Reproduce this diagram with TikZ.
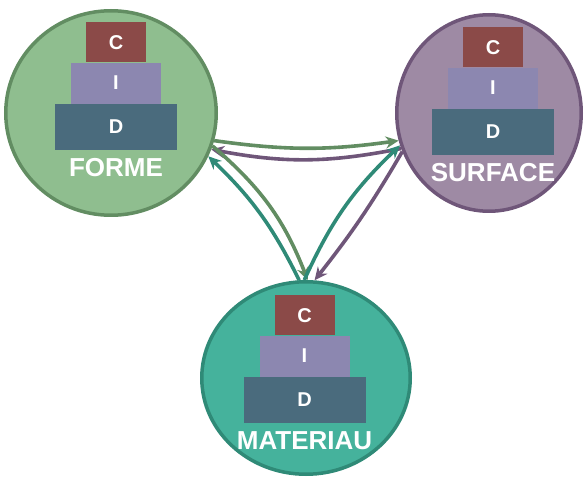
\documentclass[tikz,border=0pt]{standalone}
\usepackage{fontspec}
\setmainfont{Liberation Sans}
\usepackage{xcolor}
\usepackage{tikz}
\usetikzlibrary{arrows.meta,positioning,shapes.geometric}
\definecolor{formefill}{HTML}{8FBE8F}
\definecolor{formeline}{HTML}{628D62}
\definecolor{surffill}{HTML}{9E8AA4}
\definecolor{surfline}{HTML}{6F5679}
\definecolor{matfill}{HTML}{45B29C}
\definecolor{matline}{HTML}{2F8A77}
\definecolor{tierc}{HTML}{8B4A48}
\definecolor{tieri}{HTML}{8C87B0}
\definecolor{tierd}{HTML}{4A6B7D}

\begin{document}
\begin{tikzpicture}[
            x=1pt, y=1pt,
            bubble/.style={ellipse, inner sep=0pt, line width=3.5pt},
            tier/.style={inner sep=0pt, text=white, font=\bfseries\fontsize{20}{20}\selectfont},
            tagl/.style={inner sep=0pt, text=white, font=\bfseries\fontsize{26}{26}\selectfont},
            conn/.style={-{Stealth[length=13pt, width=12pt]}, line width=3.6pt}
        ]
        \useasboundingbox (0,0) rectangle (587,-489);

        % trois bulles
        \node[bubble, fill=formefill, draw=formeline,
            minimum width=210.5pt, minimum height=204.5pt] (forme) at (111,-113) {};
        \node[bubble, fill=surffill, draw=surfline,
            minimum width=184.5pt, minimum height=196.5pt] (surface) at (489,-113) {};
        \node[bubble, fill=matfill, draw=matline,
            minimum width=208.5pt, minimum height=192.5pt] (materiau) at (306,-378) {};

        % piles C / I / D
        \foreach \nm/\px/\py/\lab in {forme/116/-22/FORME, surface/493/-27/SURFACE,
                materiau/304.5/-295/MATERIAU} {
            \node[tier, fill=tierc, minimum width=60pt, minimum height=40pt, anchor=north]
                (\nm-c) at (\px,\py) {C};
            \node[tier, fill=tieri, minimum width=90pt, minimum height=41pt, below=0pt of \nm-c]
                (\nm-i) {I};
            \node[tier, fill=tierd, minimum width=122pt, minimum height=46pt, below=0pt of \nm-i]
                (\nm-d) {D};
            \node[tagl, below=8pt of \nm-d] (\nm-lab) {\lab};
        }

        % liaisons
        \draw[conn, formeline] (forme.-15) to[bend right=8] (surface.197);
        \draw[conn, surfline] (surface.202) to[bend left=11] (forme.-20);
        \draw[conn, matline] (materiau.94) to[bend right=10] (forme.-24);
        \draw[conn, formeline] (forme.-18) to[bend left=14] (materiau.89);
        \draw[conn, matline] (materiau.91) to[bend left=11] (surface.200);
        \draw[conn, surfline] (surface.204) to[bend left=4] (materiau.85);
    \end{tikzpicture}
\end{document}
